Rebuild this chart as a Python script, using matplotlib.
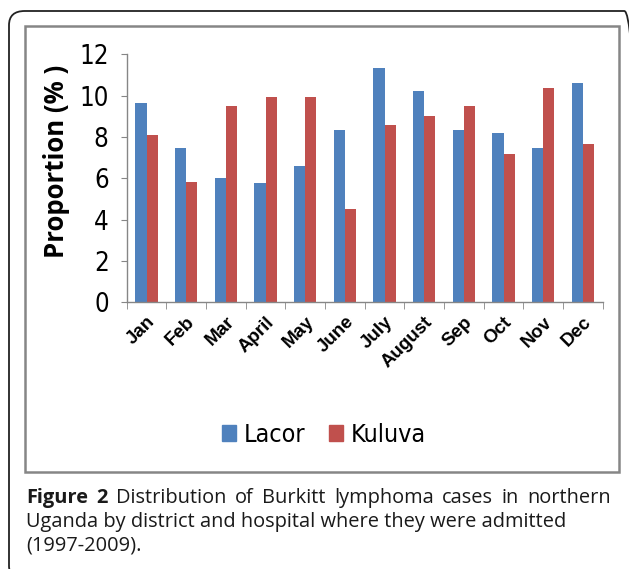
import matplotlib
matplotlib.use("Agg")
import matplotlib.pyplot as plt
import numpy as np
from matplotlib import font_manager
from matplotlib.patches import Rectangle, FancyBboxPatch, Patch

months = ['Jan', 'Feb', 'Mar', 'April', 'May', 'June', 'July', 'August',
          'Sep', 'Oct', 'Nov', 'Dec']
lacor = [9.66, 7.48, 6.03, 5.77, 6.59, 8.34, 11.34, 10.22, 8.34, 8.19, 7.46, 10.61]
kuluva = [8.09, 5.82, 9.50, 9.93, 9.93, 4.51, 8.58, 9.01, 9.50, 7.17, 10.37, 7.66]
series_names = ['Lacor', 'Kuluva']
yticks = [0, 2, 4, 6, 8, 10, 12]

W, H = 629, 569

# look for a narrow sans face (Arial Narrow look-alike)
narrow_file = None
for key in ['LiberationSansNarrow-Regular', 'DejaVuSansCondensed.']:
    hits = [f.fname for f in font_manager.fontManager.ttflist if key in f.fname]
    if hits:
        narrow_file = sorted(hits)[0]
        break


def narrow_prop(size):
    if narrow_file:
        return font_manager.FontProperties(fname=narrow_file, size=size)
    return font_manager.FontProperties(family='Liberation Sans', size=size * 0.85)


def fx(x):
    return x / W


def fy(y):
    return 1 - y / H


fig = plt.figure(figsize=(W / 100, H / 100), dpi=100)

# outer rounded frame and inner chart frame
fig.patches.append(FancyBboxPatch((fx(9), fy(580)), fx(640) - fx(9), fy(11) - fy(580),
                                  boxstyle="round,pad=0,rounding_size=0.025",
                                  transform=fig.transFigure, fill=False,
                                  edgecolor='#222222', lw=1.3))
fig.patches.append(Rectangle((fx(25), fy(472)), fx(619) - fx(25), fy(26) - fy(472),
                             transform=fig.transFigure, fill=False,
                             edgecolor='#868686', lw=1.8))

ax = fig.add_axes([fx(126.7), fy(302.3), fx(602.7) - fx(126.7), fy(54.3) - fy(302.3)])

x = np.arange(len(months))
w = 0.28
ax.bar(x - w / 2, lacor, w, color='#4F81BD', label=series_names[0])
ax.bar(x + w / 2, kuluva, w, color='#C0504D', label=series_names[1])

ax.set_xlim(-0.5, len(months) - 0.5)
ax.set_ylim(0, 12)
ax.set_yticks(yticks)
ax.set_yticklabels([str(t) for t in yticks], fontproperties=narrow_prop(18.5))
ax.tick_params(axis='y', length=4, color='#868686', pad=9)

ax.set_xticks(x)
ax.set_xticklabels(months, rotation=45, ha='right', va='top', rotation_mode='anchor',
                   fontfamily='Liberation Sans', fontweight='bold', fontsize=13.5)
ax.set_xticks(np.arange(len(months) + 1) - 0.5, minor=True)
ax.tick_params(axis='x', which='major', length=0, pad=8)
ax.tick_params(axis='x', which='minor', length=5, color='#868686')

for s in ['top', 'right']:
    ax.spines[s].set_visible(False)
for s in ['left', 'bottom']:
    ax.spines[s].set_color('#868686')
    ax.spines[s].set_linewidth(1.0)

fig.text(fx(57), fy(161), 'Proportion (% )', rotation=90, ha='center', va='center',
         fontfamily='Open Sans', fontweight='bold', fontsize=18.5)

handles = [Patch(color='#4F81BD'), Patch(color='#C0504D')]
fig.legend(handles, series_names, loc='center', bbox_to_anchor=(fx(324), fy(435)),
           frameon=False, ncol=2, prop=narrow_prop(18),
           handlelength=0.56, handleheight=0.62, handletextpad=0.32, columnspacing=0.95)

# caption
cap_font = dict(fontfamily='Open Sans', fontsize=14.4, color='#1a1a1a', va='baseline')
fig.canvas.draw()
renderer = fig.canvas.get_renderer()

line1 = [('Figure', 'bold'), ('2', 'bold'), ('Distribution', 'normal'), ('of', 'normal'),
         ('Burkitt', 'normal'), ('lymphoma', 'normal'), ('cases', 'normal'),
         ('in', 'normal'), ('northern', 'normal')]
left, right = 26, 611
words = []
for word, weight in line1:
    t = fig.text(0, 0, word, fontweight=weight, **cap_font)
    words.append((t, t.get_window_extent(renderer).width))
gap = (right - left - sum(wd for _, wd in words)) / (len(words) - 1)
pos = left
for t, wd in words:
    t.set_position((fx(pos), fy(503)))
    pos += wd + gap

fig.text(fx(26), fy(527), 'Uganda by district and hospital where they were admitted', **cap_font)
fig.text(fx(26), fy(551), '(1997-2009).', **cap_font)

fig.savefig('out.png', dpi=100)
